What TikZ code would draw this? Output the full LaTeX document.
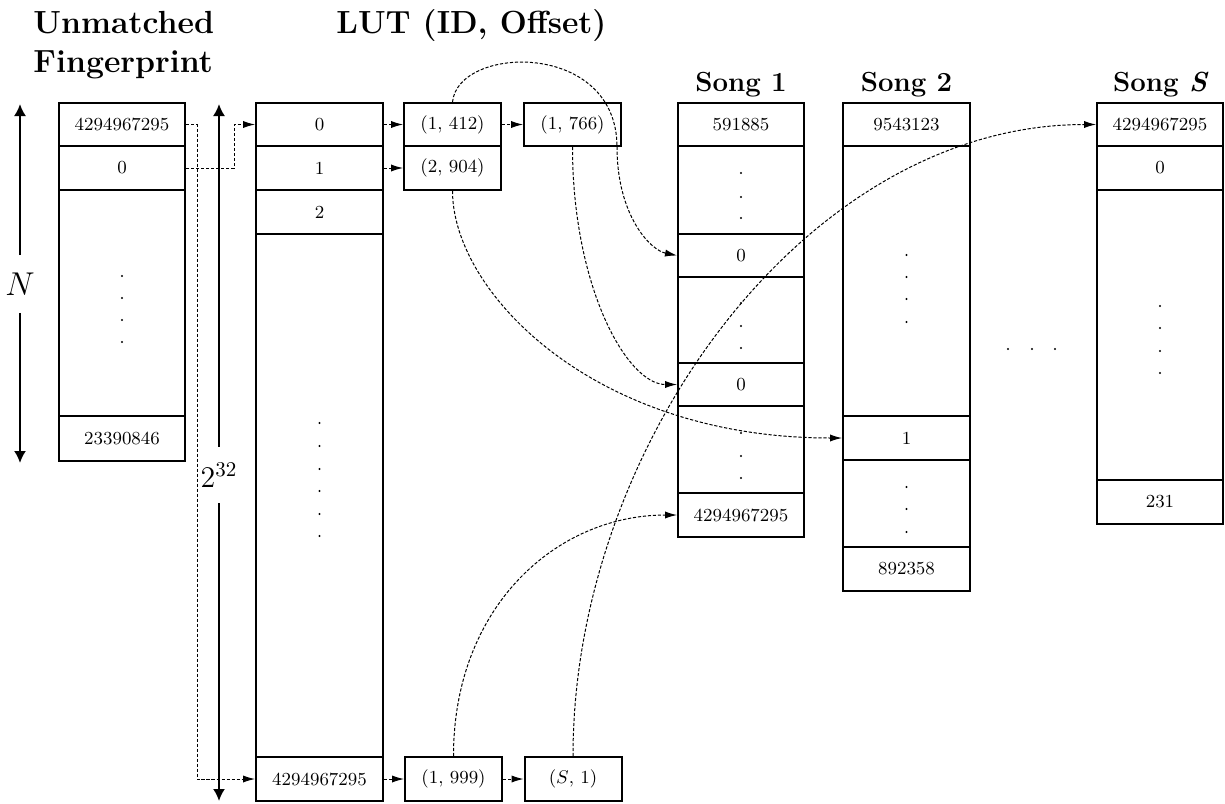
\RequirePackage{fix-cm}
\documentclass[tikz,border=0pt]{standalone}
\usetikzlibrary{arrows.meta}
\newcommand{\cellfont}{\fontsize{9.2}{11}\selectfont}
\begin{document}
\begin{tikzpicture}[x=0.5pt,y=-0.5pt,
  cell/.style={draw, line width=1pt, inner sep=0pt, minimum width=63pt, font=\cellfont},
  lutcell/.style={cell, minimum width=63.5pt},
  entry/.style={cell, minimum width=48.5pt},
  conn/.style={line width=0.5pt, dash pattern=on 1.6pt off 0.9pt, -{Latex[length=6pt,width=3.6pt]}},
  bigarrow/.style={line width=1pt, -{Latex[length=6pt,width=6pt]}},
  title/.style={font=\fontsize{16}{19}\selectfont\bfseries, inner sep=0pt},
  songtitle/.style={font=\fontsize{13.8}{16}\selectfont\bfseries, inner sep=0pt, anchor=base},
  dimlabel/.style={font=\fontsize{16.5}{20}\selectfont, inner sep=0pt, minimum height=28.5pt},
  dot/.style={fill=black}
]
\useasboundingbox (0,0) rectangle (1225,803);

% titles
\node[title, anchor=base west] (tU) at (33,33) {Unmatched};
\node[title, anchor=base west] (tF) at (33,72) {Fingerprint};
\node[title, anchor=base west] (tL) at (336,33) {LUT (ID, Offset)};
\node[songtitle] (t1) at (741,91) {Song 1};
\node[songtitle] (t2) at (906.5,91) {Song 2};
\node[songtitle] (tS) at (1160,91) {Song {\itshape S}};

% unmatched fingerprint
\node[cell, minimum height=21.5pt] (u1) at (122,124.5) {4294967295};
\node[cell, minimum height=22pt]   (u2) at (122,168) {0};
\node[cell, minimum height=113pt]  (u3) at (122,303) {};
\node[cell, minimum height=22.5pt] (u4) at (122,438.5) {23390846};
\foreach \y in {276,298,320,342} \fill[dot] (122,\y) circle (0.55pt);

% LUT
\node[lutcell, minimum height=21.5pt] (l0) at (319.5,124.5) {0};
\node[lutcell, minimum height=22pt]   (l1) at (319.5,168) {1};
\node[lutcell, minimum height=22pt]   (l2) at (319.5,212) {2};
\node[lutcell, minimum height=261.5pt] (l3) at (319.5,495.5) {};
\node[lutcell, minimum height=22pt]   (lN) at (319.5,779) {4294967295};
\foreach \y in {423,446,469,491,514,536} \fill[dot] (319.5,\y) circle (0.55pt);

% entries
\node[entry, minimum height=21.5pt] (e1) at (452.5,124.5) {(1, 412)};
\node[entry, minimum height=22pt]   (e2) at (452.5,168) {(2, 904)};
\node[entry, minimum height=21.5pt] (e3) at (572.5,124.5) {(1, 766)};
\node[entry, minimum height=22pt]   (e4) at (453.5,779) {(1, 999)};
\node[entry, minimum height=22pt]   (e5) at (573,779) {($S$, 1)};

% song 1
\node[cell, minimum height=21.5pt] (s1a) at (741,124.5) {591885};
\node[cell, minimum height=44pt]   (s1b) at (741,190) {};
\node[cell, minimum height=21.5pt] (s1c) at (741,255.5) {0};
\node[cell, minimum height=43pt]   (s1d) at (741,320) {};
\node[cell, minimum height=21.5pt] (s1e) at (741,384.5) {0};
\node[cell, minimum height=43.5pt] (s1f) at (741,449.5) {};
\node[cell, minimum height=22pt]   (s1g) at (741,515) {4294967295};
\foreach \y in {173,197,218,303,326,348,433,456,478} \fill[dot] (741,\y) circle (0.55pt);

% song 2
\node[lutcell, minimum height=21.5pt] (s2a) at (906.5,124.5) {9543123};
\node[lutcell, minimum height=135pt]  (s2b) at (906.5,281) {};
\node[lutcell, minimum height=22pt]   (s2c) at (906.5,438) {1};
\node[lutcell, minimum height=43.5pt] (s2d) at (906.5,503.5) {};
\node[lutcell, minimum height=22pt]   (s2e) at (906.5,569) {892358};
\foreach \y in {255,277,299,322,487,509,532} \fill[dot] (906.5,\y) circle (0.55pt);

% song S
\node[cell, minimum height=21.5pt] (sSa) at (1160,124.5) {4294967295};
\node[cell, minimum height=22pt]   (sSb) at (1160,168) {0};
\node[cell, minimum height=145pt]  (sSc) at (1160,335) {};
\node[cell, minimum height=22pt]   (sSd) at (1160,502) {231};
\foreach \y in {306,328,351,373} \fill[dot] (1160,\y) circle (0.55pt);

% horizontal dots
\foreach \x in {1008,1032,1055} \fill[dot] (\x,349) circle (0.55pt);

% dimension arrows
\node[dimlabel] (nN) at (20,284) {$N$};
\coordinate (nTop) at (20,104);
\coordinate (nBot) at (20,463);
\draw[bigarrow] (nN.north) -- (nTop);
\draw[bigarrow] (nN.south) -- (nBot);
\node[dimlabel, font=\fontsize{15}{18}\selectfont, minimum height=28pt] (n32) at (219,475) {$2^{32}$};
\coordinate (mTop) at (219,104);
\coordinate (mBot) at (219,801);
\draw[bigarrow] (n32.north) -- (mTop);
\draw[bigarrow] (n32.south) -- (mBot);

% fingerprint -> LUT
\draw[conn] (u1.east) -- ++(11,0) |- (lN.west);
\draw[conn] (u2.east) -- ++(48,0) |- (l0.west);

% LUT -> entries
\draw[conn] (l0.east) -- (e1.west);
\draw[conn] (l1.east) -- (e2.west);
\draw[conn] (e1.east) -- (e3.west);
\draw[conn] (lN.east) -- (e4.west);
\draw[conn] (e4.east) -- (e5.west);

% entries -> songs
\draw[conn] (e1.north) .. controls (458,45) and (617,40) .. (617,147)
  .. controls (617,215) and (650,250) .. (s1c.west);
\draw[conn] (e3.south) .. controls +(0,140) and +(-50,0) .. (s1e.west);
\draw[conn] (e2.south) .. controls +(0,100) and +(-250,0) .. (s2c.west);
\draw[conn] (e4.north) .. controls +(0,-150) and +(-120,0) .. (s1g.west);
\draw[conn] (e5.north) .. controls +(0,-310) and +(-290,0) .. (sSa.west);
\end{tikzpicture}
\end{document}
